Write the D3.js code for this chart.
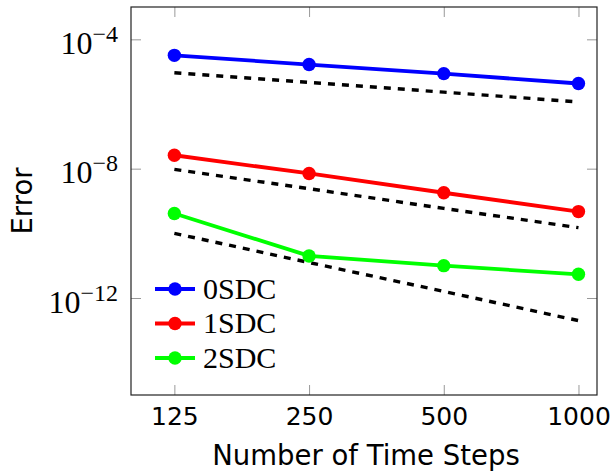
<!DOCTYPE html>
<html>
<head>
<meta charset="utf-8">
<script src="https://cdn.jsdelivr.net/npm/d3@7"></script>
<style>
  body { margin: 0; background: #fff; }
</style>
</head>
<body>
<script>
// x values (number of time steps)
const steps = [125, 250, 500, 1000];

// error per method
const err0SDC = [3.2e-5, 1.66e-5, 8.7e-6, 4.3e-6];
const err1SDC = [2.6e-8, 7.1e-9, 1.8e-9, 4.7e-10];
const err2SDC = [4.1e-10, 2.0e-11, 1.0e-11, 5.4e-12];

// dashed reference slopes (order 1, 2, 3)
const ref0SDC = [9.3e-6, 4.65e-6, 2.33e-6, 1.16e-6];
const ref1SDC = [9.5e-9, 2.4e-9, 5.9e-10, 1.5e-10];
const ref2SDC = [1.0e-10, 1.25e-11, 1.6e-12, 2.0e-13];

const seriesNames = ["0SDC", "1SDC", "2SDC"];
const xTicks = [125, 250, 500, 1000];
const yTicks = [1e-4, 1e-8, 1e-12];
const yTickExp = ["\u22124", "\u22128", "\u221212"];

const width = 613, height = 472;
const margin = { top: 7, right: 16, bottom: 77, left: 131 };
const w = width - margin.left - margin.right;
const h = height - margin.top - margin.bottom;

const colors = ["#0000ff", "#ff0000", "#00ff00"];
const errs = [err0SDC, err1SDC, err2SDC];
const refs = [ref0SDC, ref1SDC, ref2SDC];

const svg = d3.select("body")
  .append("svg")
  .attr("width", width)
  .attr("height", height)
  .append("g")
  .attr("transform", `translate(${margin.left}, ${margin.top})`);

const x = d3.scaleLog().domain([100, 1100]).range([0, w]);
const y = d3.scaleLog().domain([1e-15, 1e-3]).range([h, 0]);

// axes (ticks point inward)
const xAxis = svg.append("g")
  .attr("transform", `translate(0, ${h})`)
  .call(d3.axisBottom(x).tickValues(xTicks).tickSize(-10).tickSizeOuter(0).tickFormat(d3.format("d")));
xAxis.selectAll("text")
  .attr("y", 30).attr("dy", 0)
  .style("font-family", "'DejaVu Sans', sans-serif")
  .style("font-size", "25px")
  .attr("fill", "#000");

const yAxis = svg.append("g")
  .call(d3.axisLeft(y).tickValues(yTicks).tickSize(-10).tickSizeOuter(0));
yAxis.selectAll("text")
  .attr("x", -13).attr("dy", 0).attr("y", 14)
  .style("font-family", "'Liberation Serif', serif")
  .style("font-size", "32px")
  .attr("fill", "#000")
  .text("")
  .each(function(d, i) {
    const t = d3.select(this);
    t.append("tspan").text("10");
    t.append("tspan").attr("dy", -12).style("font-size", "24px").text(yTickExp[i]);
  });

// mirrored ticks on top and right
svg.append("g")
  .call(d3.axisTop(x).tickValues(xTicks).tickSize(-10).tickSizeOuter(0).tickFormat(""));
svg.append("g")
  .attr("transform", `translate(${w}, 0)`)
  .call(d3.axisRight(y).tickValues(yTicks).tickSize(-10).tickSizeOuter(0).tickFormat(""));

svg.selectAll(".domain").remove();
svg.selectAll(".tick line").attr("stroke", "#999").attr("stroke-width", 1);

svg.append("rect")
  .attr("width", w).attr("height", h)
  .attr("fill", "none").attr("stroke", "#222").attr("stroke-width", 1.2);

const line = d3.line()
  .x((d, i) => x(steps[i]))
  .y(d => y(d));

// series with their dashed reference lines
errs.forEach((vals, k) => {
  svg.append("path")
    .datum(refs[k])
    .attr("d", line)
    .attr("fill", "none")
    .attr("stroke", "#000")
    .attr("stroke-width", 3.4)
    .attr("stroke-dasharray", "7 7");

  svg.append("path")
    .datum(vals)
    .attr("d", line)
    .attr("fill", "none")
    .attr("stroke", colors[k])
    .attr("stroke-width", 3.8);

  svg.selectAll(".pt" + k)
    .data(vals)
    .enter()
    .append("circle")
    .attr("cx", (d, i) => x(steps[i]))
    .attr("cy", d => y(d))
    .attr("r", 6.7)
    .attr("fill", colors[k]);
});

// axis titles
svg.append("text")
  .attr("x", w / 2 + 2)
  .attr("y", h + 70)
  .attr("text-anchor", "middle")
  .style("font-family", "'DejaVu Sans', sans-serif")
  .style("font-size", "27.5px")
  .text("Number of Time Steps");

svg.append("text")
  .attr("transform", `translate(${-margin.left + 32}, ${h / 2}) rotate(-90)`)
  .attr("text-anchor", "middle")
  .style("font-family", "'DejaVu Sans', sans-serif")
  .style("font-size", "27.5px")
  .text("Error");

// legend
const legend = svg.append("g")
  .attr("transform", `translate(${155 - margin.left}, ${289 - margin.top})`);
seriesNames.forEach((name, k) => {
  const row = legend.append("g").attr("transform", `translate(0, ${k * 34.5})`);
  row.append("line")
    .attr("x1", 0).attr("x2", 40)
    .attr("stroke", colors[k]).attr("stroke-width", 3.8);
  row.append("circle")
    .attr("cx", 20).attr("r", 6.7).attr("fill", colors[k]);
  row.append("text")
    .attr("x", 48).attr("y", 9.5)
    .style("font-family", "'Liberation Serif', serif")
    .style("font-size", "30px")
    .text(name);
});
</script>
</body>
</html>
